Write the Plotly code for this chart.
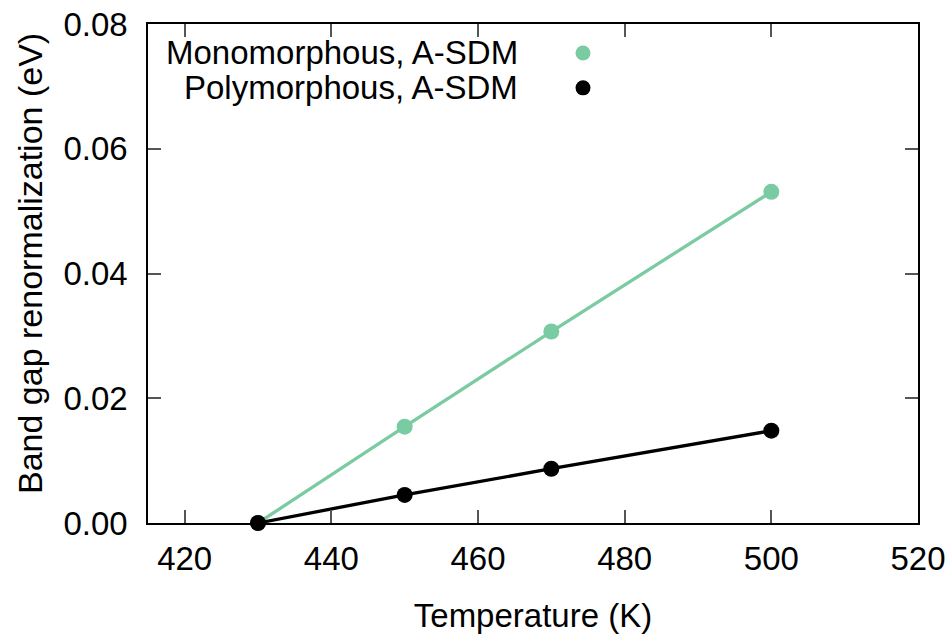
import plotly.graph_objects as go

temperature = [430, 450, 470, 500]
mono = [0.0, 0.01545, 0.0307, 0.0531]
poly = [0.0, 0.0045, 0.0087, 0.0148]
series_names = ["Monomorphous, A-SDM", "Polymorphous, A-SDM"]
x_ticks = [420, 440, 460, 480, 500, 520]
y_ticks = [0.0, 0.02, 0.04, 0.06, 0.08]

GREEN = "#7acba1"
BLACK = "#000000"
FONT = "Liberation Sans, Arial, sans-serif"
FS = 33

fig = go.Figure()
for name, ys, col in [(series_names[0], mono, GREEN), (series_names[1], poly, BLACK)]:
    fig.add_trace(go.Scatter(
        x=temperature, y=ys, mode="lines+markers", name=name,
        line=dict(color=col, width=3.3),
        marker=dict(color=col, size=16),
        showlegend=False, cliponaxis=False,
    ))

# gnuplot-style legend: right-aligned text, marker on the right
leg_rows = [(series_names[0], GREEN, 0.942), (series_names[1], BLACK, 0.872)]
for name, col, yp in leg_rows:
    fig.add_annotation(xref="paper", yref="paper", x=(520 - 148) / 770, y=yp, text=name,
                       showarrow=False, xanchor="right", yanchor="middle",
                       font=dict(family=FONT, size=FS, color="black"))
    fig.add_shape(type="circle", xref="paper", yref="paper",
                  x0=(583 - 148 - 7.5) / 770, x1=(583 - 148 + 7.5) / 770,
                  y0=yp - 7.5 / 499, y1=yp + 7.5 / 499,
                  fillcolor=col, line=dict(width=0))

# y-axis title as rotated text
fig.add_annotation(xref="paper", yref="paper", x=(30 - 148) / 770, y=(523 - 264) / 499,
                   text="Band gap renormalization (eV)", textangle=-90,
                   showarrow=False, xanchor="center", yanchor="middle",
                   font=dict(family=FONT, size=34, color="black"))

axis_common = dict(
    showline=True, linecolor="black", linewidth=1.5, mirror="ticks",
    ticks="inside", ticklen=13, tickwidth=1.5, tickcolor="#555555",
    showgrid=False, zeroline=False, automargin=False,
    tickfont=dict(family=FONT, size=FS, color="black"),
)

fig.update_xaxes(range=[415, 520], tickvals=x_ticks,
                 ticktext=[str(v) for v in x_ticks],
                 title=dict(text="Temperature (K)", standoff=28,
                            font=dict(family=FONT, size=FS, color="black")),
                 ticklabelstandoff=6,
                 **axis_common)
fig.update_yaxes(range=[0, 0.08], tickvals=y_ticks,
                 ticktext=[f"{v:.2f}" for v in y_ticks],
                 ticklabelstandoff=12,
                 **axis_common)

fig.update_layout(
    width=952, height=638,
    margin=dict(l=148, r=34, t=24, b=115),
    plot_bgcolor="white", paper_bgcolor="white",
    font=dict(family=FONT, size=FS, color="black"),
)

fig.write_html("out.html")
